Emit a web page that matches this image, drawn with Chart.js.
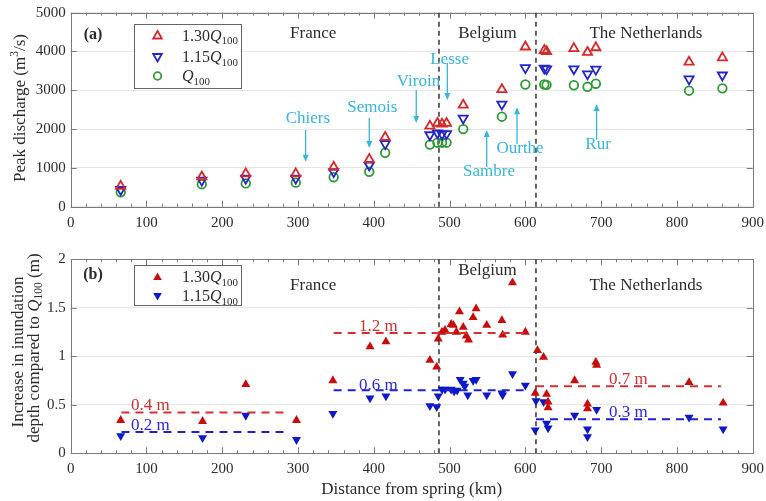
<!DOCTYPE html>
<html><head><meta charset="utf-8">
<script src="https://cdn.jsdelivr.net/npm/chart.js@4"></script>
<style>
body{margin:0;background:#fff}
#wrap{position:relative;width:766px;height:501px}
.pane{position:absolute;left:0;width:766px}
</style>
</head><body>
<div id="wrap">
<div class="pane" style="top:0;height:230px"><canvas id="c1"></canvas></div>
<div class="pane" style="top:230px;height:271px"><canvas id="c2"></canvas></div>
</div>
<script>
// ---------- DATA ----------
const distTop = [66,173,231,297,347,394,415,474,484,490,496,518,569,600,625,628,664,682,693,816,860];
const peak130 = [530,770,850,850,1020,1220,1790,2080,2150,2130,2150,2620,3020,4120,4030,4000,4080,3980,4100,3730,3840];
const peak115 = [440,680,730,730,900,1070,1620,1850,1900,1870,1880,2280,2640,3580,3570,3550,3550,3420,3540,3290,3390];
const peak100 = [370,580,600,620,760,900,1390,1600,1650,1650,1650,2000,2320,3150,3150,3140,3130,3090,3170,2990,3050];

const distRed = [66,174,231,298,346,395,416,474,483,485,490,494,502,505,509,513,518,522,525,531,535,549,569,570,583,600,613,616,624,628,630,630,665,682,682,693,694,816,861];
const depthRed = [0.34,0.33,0.71,0.34,0.75,1.10,1.15,0.96,0.89,1.18,1.25,1.27,1.33,1.32,1.25,1.46,1.30,1.21,1.17,1.40,1.49,1.32,1.37,1.22,1.76,1.25,0.62,1.06,0.99,0.61,0.53,0.47,0.75,0.51,0.46,0.94,0.91,0.73,0.52];
const distBlue = [66,174,231,298,346,395,416,474,483,485,490,494,502,506,510,514,518,520,524,531,535,549,569,570,583,600,613,614,624,628,630,665,682,682,694,816,861];
const depthBlue = [0.18,0.16,0.39,0.14,0.41,0.57,0.59,0.49,0.48,0.59,0.66,0.66,0.66,0.64,0.65,0.76,0.72,0.69,0.60,0.75,0.76,0.60,0.62,0.60,0.82,0.70,0.24,0.54,0.53,0.31,0.26,0.39,0.25,0.17,0.45,0.37,0.25];

const segStart = [67,347,614];
const segEnd = [287,602,858];
const meanRed = [0.42,1.24,0.69];
const meanBlue = [0.22,0.65,0.35];
const meanRedLabels = ['0.4 m','1.2 m','0.7 m'];
const meanBlueLabels = ['0.2 m','0.6 m','0.3 m'];
const meanLabelX = [105,406,736];
const meanRedLabelY = [0.50,1.32,0.77];
const meanBlueLabelY = [0.30,0.71,0.43];

const borderKm = [486,614];
const countries = ['France','Belgium','The Netherlands'];
const countryX = [320,550,759];
const countryYTop = [4480,4480,4480];
const countryYBot = [1.745,1.89,1.745];

const rivers = ['Chiers','Semois','Viroin','Lesse','Sambre','Ourthe','Rur'];
const riverTextX = [313,398,459,500,552,593,696];
const riverTextY = [2290,2570,3265,3830,930,1530,1620];
const riverArrowX = [310,394,456,497,549,589,694];
const riverArrowFrom = [1977,2286,3008,3704,1023,1616,1719];
const riverArrowTo = [1160,1513,2157,2750,1977,2562,2647];

const xTicks = {min:0, max:900, step:100};
const yTopTicks = {min:0, max:5000, step:1000};
const yBotTicks = {min:0, max:2, step:0.5};

// ---------- STYLE ----------
const FONT = '"Liberation Serif","Times New Roman",serif';
const C_RED = '#d42a2a', C_BLUE = '#2424c8', C_GREEN = '#2f9a35';
const C_RED_F = '#c80c0c', C_BLUE_F = '#0d18c8';
const C_CYAN = '#36b4da';
const C_TXT = '#2b2b2b';

function drawRich(ctx, parts, x, y, size, align, color, bold){
  const f = t => (bold?'bold ':'') + (t==='i'?'italic ':'') + ((t==='s'||t==='u')? (size*0.68).toFixed(1) : size) + 'px ' + FONT;
  let w = 0;
  for (const [s,t] of parts){ ctx.font = f(t); w += ctx.measureText(s).width; }
  let cx = align==='center' ? x-w/2 : (align==='right' ? x-w : x);
  ctx.textAlign='left'; ctx.textBaseline='alphabetic'; ctx.fillStyle=color;
  for (const [s,t] of parts){
    ctx.font = f(t);
    const dy = t==='s' ? size*0.22 : (t==='u' ? -size*0.38 : 0);
    ctx.fillText(s, cx, y+dy);
    cx += ctx.measureText(s).width;
  }
}
function triUp(ctx,x,y,r){ctx.beginPath();ctx.moveTo(x,y-r);ctx.lineTo(x+r*0.866,y+r*0.5);ctx.lineTo(x-r*0.866,y+r*0.5);ctx.closePath();}
function triDown(ctx,x,y,r){ctx.beginPath();ctx.moveTo(x,y+r);ctx.lineTo(x+r*0.866,y-r*0.5);ctx.lineTo(x-r*0.866,y-r*0.5);ctx.closePath();}
function circ(ctx,x,y,r){ctx.beginPath();ctx.arc(x,y,r,0,Math.PI*2);}

function frame(chart, ctx){
  const a = chart.chartArea, xs = chart.scales.x, ys = chart.scales.y;
  ctx.save();
  ctx.strokeStyle = '#7a7a7a'; ctx.lineWidth = 1;
  ctx.beginPath();
  for (let v = xTicks.min; v <= xTicks.max; v += 20){
    const px = Math.round(xs.getPixelForValue(v))+0.5;
    const L = (v % 100 === 0) ? 6 : 3;
    ctx.moveTo(px, a.bottom); ctx.lineTo(px, a.bottom-L);
    ctx.moveTo(px, a.top); ctx.lineTo(px, a.top+L);
  }
  for (const t of ys.ticks){
    const py = Math.round(ys.getPixelForValue(t.value))+0.5;
    ctx.moveTo(a.left, py); ctx.lineTo(a.left+6, py);
    ctx.moveTo(a.right, py); ctx.lineTo(a.right-6, py);
  }
  ctx.stroke();
  ctx.strokeRect(Math.round(a.left)+0.5, Math.round(a.top)+0.5, Math.round(a.right-a.left), Math.round(a.bottom-a.top));
  ctx.strokeStyle = '#333'; ctx.lineWidth = 1.5; ctx.setLineDash([5,4]);
  for (const b of borderKm){
    const px = xs.getPixelForValue(b);
    ctx.beginPath(); ctx.moveTo(px, a.top); ctx.lineTo(px, a.bottom); ctx.stroke();
  }
  ctx.restore();
}

const topPlugin = {
  id:'topDecor',
  beforeDatasetsDraw(chart){ frame(chart, chart.ctx); },
  afterDatasetsDraw(chart){
    const ctx = chart.ctx, xs = chart.scales.x, ys = chart.scales.y;
    ctx.save();
    drawRich(ctx, [['(a)','n']], 93, 39, 16, 'center', C_TXT, true);
    countries.forEach((c,i)=> drawRich(ctx, [[c,'n']], xs.getPixelForValue(countryX[i]), ys.getPixelForValue(countryYTop[i])+5.5, 17, 'center', C_TXT));
    ctx.strokeStyle = C_CYAN; ctx.fillStyle = C_CYAN; ctx.lineWidth = 1.3;
    rivers.forEach((r,i)=>{
      const px = xs.getPixelForValue(riverArrowX[i]);
      const y0 = ys.getPixelForValue(riverArrowFrom[i]), y1 = ys.getPixelForValue(riverArrowTo[i]);
      const dir = Math.sign(y1-y0);
      ctx.beginPath(); ctx.moveTo(px,y0); ctx.lineTo(px,y1-dir*5); ctx.stroke();
      ctx.beginPath(); ctx.moveTo(px,y1); ctx.lineTo(px-3,y1-dir*7); ctx.lineTo(px+3,y1-dir*7); ctx.closePath(); ctx.fill();
      drawRich(ctx, [[r,'n']], xs.getPixelForValue(riverTextX[i]), ys.getPixelForValue(riverTextY[i])+5.5, 17, 'center', C_CYAN);
    });
    ctx.fillStyle='#fff'; ctx.fillRect(134.5,24.5,107,64);
    ctx.strokeStyle='#666'; ctx.lineWidth=1; ctx.strokeRect(134.5,24.5,107,64);
    ctx.lineWidth=1.8;
    ctx.strokeStyle=C_RED; triUp(ctx,157.5,36,5); ctx.stroke();
    ctx.strokeStyle=C_BLUE; triDown(ctx,157.5,56.5,5); ctx.stroke();
    ctx.strokeStyle=C_GREEN; circ(ctx,157.5,76,3.8); ctx.stroke();
    drawRich(ctx, [['1.30','n'],['Q','i'],['100','s']], 182, 40.5, 16, 'left', C_TXT);
    drawRich(ctx, [['1.15','n'],['Q','i'],['100','s']], 182, 62, 16, 'left', C_TXT);
    drawRich(ctx, [['Q','i'],['100','s']], 182, 81, 16, 'left', C_TXT);
    ctx.translate(19, 108); ctx.rotate(-Math.PI/2);
    drawRich(ctx, [['Peak discharge (m','n'],['3','u'],['/s)','n']], 0, 5.5, 17, 'center', C_TXT);
    ctx.restore();
  }
};

const botPlugin = {
  id:'botDecor',
  beforeDatasetsDraw(chart){ frame(chart, chart.ctx); },
  afterDatasetsDraw(chart){
    const ctx = chart.ctx, xs = chart.scales.x, ys = chart.scales.y;
    ctx.save();
    drawRich(ctx, [['(b)','n']], 93, 49, 16, 'center', C_TXT, true);
    countries.forEach((c,i)=> drawRich(ctx, [[c,'n']], xs.getPixelForValue(countryX[i]), ys.getPixelForValue(countryYBot[i])+5.5, 17, 'center', C_TXT));
    meanRedLabels.forEach((l,i)=> drawRich(ctx, [[l,'n']], xs.getPixelForValue(meanLabelX[i]), ys.getPixelForValue(meanRedLabelY[i])+5.5, 17, 'center', '#c83232'));
    meanBlueLabels.forEach((l,i)=> drawRich(ctx, [[l,'n']], xs.getPixelForValue(meanLabelX[i]), ys.getPixelForValue(meanBlueLabelY[i])+5.5, 17, 'center', '#2a2ad0'));
    ctx.fillStyle='#fff'; ctx.fillRect(134.5,35.5,107,40);
    ctx.strokeStyle='#666'; ctx.lineWidth=1; ctx.strokeRect(134.5,35.5,107,40);
    ctx.fillStyle=C_RED_F; triUp(ctx,157.5,47.5,5); ctx.fill();
    ctx.fillStyle=C_BLUE_F; triDown(ctx,157.5,65.5,5); ctx.fill();
    drawRich(ctx, [['1.30','n'],['Q','i'],['100','s']], 182, 52, 16, 'left', C_TXT);
    drawRich(ctx, [['1.15','n'],['Q','i'],['100','s']], 182, 71, 16, 'left', C_TXT);
    drawRich(ctx, [['Distance from spring (km)','n']], (chart.chartArea.left+chart.chartArea.right)/2, 264, 17, 'center', C_TXT);
    ctx.translate(17, 122); ctx.rotate(-Math.PI/2);
    drawRich(ctx, [['Increase in inundation','n']], 0, 5.5, 17, 'center', C_TXT);
    ctx.rotate(Math.PI/2); ctx.translate(16, -4); ctx.rotate(-Math.PI/2);
    drawRich(ctx, [['depth compared to ','n'],['Q','i'],['100','s'],[' (m)','n']], 0, 5.5, 17, 'center', C_TXT);
    ctx.restore();
  }
};

function scales(yt, xh){
  return {
    x:{type:'linear', min:xTicks.min, max:xTicks.max,
       ticks:{stepSize:xTicks.step, color:C_TXT, font:{family:FONT,size:15}, padding:7, maxRotation:0, callback:v=>String(v)},
       grid:{display:false, drawTicks:false}, border:{display:false},
       afterFit(s){ s.height = xh; s.paddingLeft = 0; s.paddingRight = 0; }},
    y:{type:'linear', min:yt.min, max:yt.max,
       ticks:{stepSize:yt.step, color:C_TXT, font:{family:FONT,size:15}, padding:5, callback:v=>String(v)},
       grid:{color:'#e6e6e6', drawTicks:false}, border:{display:false},
       afterFit(s){ s.width = 70.7; s.paddingTop = 0; s.paddingBottom = 0; }}
  };
}

const pts = (xs, ys) => xs.map((x,i)=>({x, y:ys[i]}));

new Chart(document.getElementById('c1'), {
  type:'scatter',
  data:{datasets:[
    {label:'1.30Q100', data:pts(distTop,peak130), pointStyle:'triangle', pointRadius:5.3, borderColor:C_RED, backgroundColor:'rgba(0,0,0,0)', borderWidth:1.8},
    {label:'1.15Q100', data:pts(distTop,peak115), pointStyle:'triangle', rotation:180, pointRadius:5.3, borderColor:C_BLUE, backgroundColor:'rgba(0,0,0,0)', borderWidth:1.8},
    {label:'Q100', data:pts(distTop,peak100), pointStyle:'circle', pointRadius:4.3, borderColor:C_GREEN, backgroundColor:'rgba(0,0,0,0)', borderWidth:1.8}
  ]},
  options:{responsive:true, maintainAspectRatio:false, animation:false,
    layout:{padding:{top:12.7, right:13.3, left:0, bottom:0}},
    plugins:{legend:{display:false}, tooltip:{enabled:false}},
    scales:scales(yTopTicks, 23.3)},
  plugins:[topPlugin]
});

const meanSets = [];
segStart.forEach((s,i)=>{
  meanSets.push({data:[{x:s,y:meanRed[i]},{x:segEnd[i],y:meanRed[i]}], showLine:true, pointRadius:0, borderColor:'#d43030', borderWidth:2, borderDash:[8,6]});
  meanSets.push({data:[{x:s,y:meanBlue[i]},{x:segEnd[i],y:meanBlue[i]}], showLine:true, pointRadius:0, borderColor:'#2020d0', borderWidth:2, borderDash:[8,6]});
});

new Chart(document.getElementById('c2'), {
  type:'scatter',
  data:{datasets:[
    ...meanSets,
    {label:'1.30Q100', data:pts(distRed,depthRed), pointStyle:'triangle', pointRadius:5.2, borderColor:C_RED_F, backgroundColor:C_RED_F, borderWidth:0},
    {label:'1.15Q100', data:pts(distBlue,depthBlue), pointStyle:'triangle', rotation:180, pointRadius:5.2, borderColor:C_BLUE_F, backgroundColor:C_BLUE_F, borderWidth:0}
  ]},
  options:{responsive:true, maintainAspectRatio:false, animation:false,
    layout:{padding:{top:29.3, right:13.3, left:0, bottom:0}},
    plugins:{legend:{display:false}, tooltip:{enabled:false}},
    scales:scales(yBotTicks, 47.7)},
  plugins:[botPlugin]
});
</script>
</body></html>
